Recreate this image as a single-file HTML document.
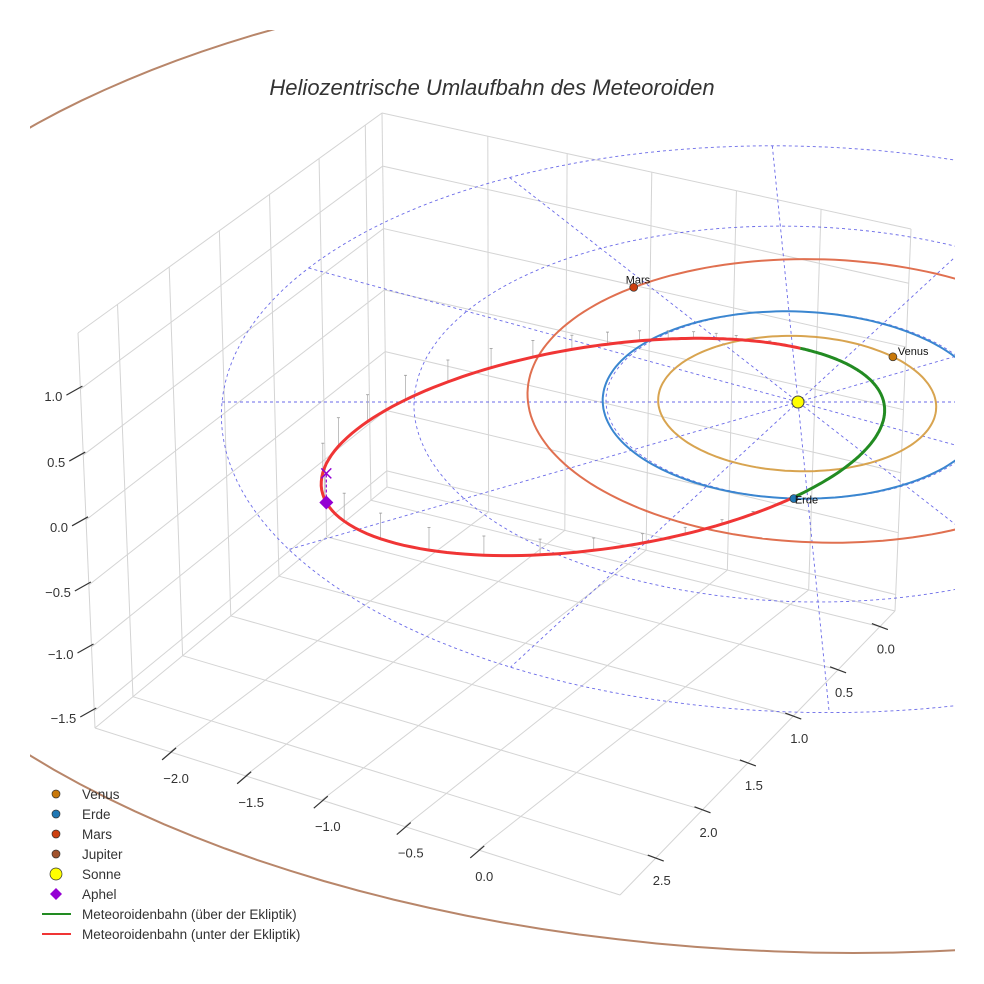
<!DOCTYPE html>
<html><head><meta charset="utf-8">
<style>
html,body{margin:0;padding:0;background:#fff;}
svg{display:block;font-family:"Liberation Sans",sans-serif;}
</style></head>
<body>
<svg id="chart" width="984" height="984" viewBox="0 0 984 984" xmlns="http://www.w3.org/2000/svg">
<defs><clipPath id="plotclip"><rect x="30" y="30" width="925" height="925"/></clipPath></defs>
<rect x="0" y="0" width="984" height="984" fill="#fff"/>
<text x="492" y="95" text-anchor="middle" font-size="22" font-style="italic" fill="#333">Heliozentrische Umlaufbahn des Meteoroiden</text>
<g id="box"></g>
<g id="scene" clip-path="url(#plotclip)"></g>
<g id="ticks"></g>
<g id="legend"></g>
</svg>
<script>
// ---- data ----
const planetNames = ["Venus", "Erde", "Mars", "Jupiter"];
const planetA = [0.723, 1.0, 1.524, 5.203];
const planetE = [0.007, 0.017, 0.093, 0.048];
const planetPeri = [0, 0, 143, 90];
const planetAngle = [317, 94, 237, 20];
const meteorQ = [0.43];
const meteorE = [0.711];
const meteorPeri = [343];
const meteorNode = [274];
const meteorIncl = [5.5];
const gridRadii = [1, 2, 3];
const radialAngles = [0, 30, 60, 90, 120, 150];
const xTicks = ["\u22122.0", "\u22121.5", "\u22121.0", "\u22120.5", "0.0"];
const yTicks = ["0.0", "0.5", "1.0", "1.5", "2.0", "2.5"];
const zTicks = ["1.0", "0.5", "0.0", "\u22120.5", "\u22121.0", "\u22121.5"];

// ---- projection ----
const CX = 798, CY = 402, KX = 192, KY = 93.6, KZ = 125, SH = 9.4, PP = 0.032;
function P(X, Y, Z) { const f = 1 / (1 - PP * Y); return [CX + (KX * X + SH * Y) * f, CY + (KY * Y - KZ * Z) * f]; }
const NS = "http://www.w3.org/2000/svg";
function mk(tag, parent) { const e = document.createElementNS(NS, tag); parent.appendChild(e); return e; }
function pathD(pts) { return pts.map((p, i) => (i ? "L" : "M") + p[0].toFixed(1) + " " + p[1].toFixed(1)).join(""); }
const rad = d => d * Math.PI / 180;
const scene = document.getElementById("scene");
const box = document.getElementById("box");
const ticks = document.getElementById("ticks");
const legend = document.getElementById("legend");

// ---- axis box (decoration) ----
const TL = [78, 333], BL = [95, 728], B = [387, 487], TB = [382, 113], R = [895, 611], TR = [911, 229], F = [620, 895];
const lerp = (a, b, t) => [a[0] + (b[0] - a[0]) * t, a[1] + (b[1] - a[1]) * t];
const yFr = [0.055, 0.207, 0.37, 0.535, 0.70, 0.87];
const zFr = [0.142, 0.309, 0.473, 0.638, 0.795, 0.957];
const xFrFront = [0.143, 0.286, 0.432, 0.59, 0.73];
const xFrBack = [0.2, 0.35, 0.51, 0.67, 0.83];
function gl(a, b, name, col) {
  const l = mk("line", box);
  l.setAttribute("x1", a[0]); l.setAttribute("y1", a[1]); l.setAttribute("x2", b[0]); l.setAttribute("y2", b[1]);
  l.setAttribute("stroke", col || "#d4d4d4"); l.setAttribute("stroke-width", "1");
  
  
}
[[TL, TB], [TB, TR], [TL, BL], [TB, B], [TR, R], [BL, B], [B, R], [BL, F], [F, R]].forEach(e => gl(e[0], e[1], "box-edge"));
yFr.forEach(t => { gl(lerp(B, BL, t), lerp(TB, TL, t), "left-wall-gridline"); gl(lerp(R, F, t), lerp(B, BL, t), "floor-gridline-y"); });
zFr.forEach(t => { gl(lerp(TL, BL, t), lerp(TB, B, t), "left-wall-gridline"); gl(lerp(TB, B, t), lerp(TR, R, t), "back-wall-gridline"); });
xFrBack.forEach((t, i) => { gl(lerp(B, R, t), lerp(TB, TR, t), "back-wall-gridline"); gl(lerp(BL, F, xFrFront[i]), lerp(B, R, t), "floor-gridline-x"); });

// ---- ticks & labels ----
function tk(x1, y1, x2, y2, name) {
  const l = mk("line", ticks);
  l.setAttribute("x1", x1); l.setAttribute("y1", y1); l.setAttribute("x2", x2); l.setAttribute("y2", y2);
  l.setAttribute("stroke", "#333"); l.setAttribute("stroke-width", "1.2");
  
  
}
function lbl(x, y, s, name, anchor) {
  const t = mk("text", ticks);
  t.setAttribute("x", x); t.setAttribute("y", y); t.setAttribute("font-size", "13"); t.setAttribute("fill", "#333");
  t.setAttribute("text-anchor", anchor || "middle"); t.textContent = s;
  
  
}
zTicks.forEach((s, i) => { const p = lerp(TL, BL, zFr[i]); tk(p[0] - 14, p[1] + 6, p[0] + 2, p[1] - 3, "z-tick"); lbl(p[0] - 18, p[1] + 12, s, "z-tick-label", "end"); });
xTicks.forEach((s, i) => { const p = lerp(BL, F, xFrFront[i]); tk(p[0] - 8, p[1] + 8, p[0] + 6, p[1] - 4, "x-tick"); lbl(p[0] + 6, p[1] + 31, s, "x-tick-label", "middle"); });
yTicks.forEach((s, i) => { const p = lerp(R, F, yFr[i]); tk(p[0] - 8, p[1] - 3, p[0] + 8, p[1] + 3, "y-tick"); lbl(p[0] + 6, p[1] + 27, s, "y-tick-label", "middle"); });

// ---- scene ----
function addPath(pts, col, w, name, dash, op) {
  const e = mk("path", scene);
  e.setAttribute("d", pathD(pts)); e.setAttribute("fill", "none"); e.setAttribute("stroke", col); e.setAttribute("stroke-width", w);
  if (dash) e.setAttribute("stroke-dasharray", dash);
  if (op) e.setAttribute("stroke-opacity", op);
  
  
  return e;
}
function orbitPt(a, e, peri, th) { const r = a * (1 - e * e) / (1 + e * Math.cos(rad(th - peri))); return [r * Math.cos(rad(th)), r * Math.sin(rad(th))]; }
gridRadii.forEach(r => { const pts = []; for (let k = 0; k <= 360; k += 2) pts.push(P(r * Math.cos(rad(k)), r * Math.sin(rad(k)), 0)); addPath(pts, "#5a5ae6", 0.9, "ecliptic-grid-circle", "3,3", 0.9); });
const rMax = gridRadii[gridRadii.length - 1];
radialAngles.forEach(a => { addPath([P(-rMax * Math.cos(rad(a)), -rMax * Math.sin(rad(a)), 0), P(rMax * Math.cos(rad(a)), rMax * Math.sin(rad(a)), 0)], "#5a5ae6", 0.9, "ecliptic-radial-line", "3,3", 0.9); });
const orbitCols = ["#d8a450", "#3a86d0", "#e07050", "#b8866a"];
const markCols = ["#c8780a", "#1f77b4", "#cc4010", "#a0522d"];
[3, 2, 1, 0].forEach(i => {
  const pts = []; for (let k = 0; k <= 360; k += 2) { const q = orbitPt(planetA[i], planetE[i], planetPeri[i], k); pts.push(P(q[0], q[1], 0)); }
  addPath(pts, orbitCols[i], 2, "orbit-" + planetNames[i].toLowerCase());
});
const mA = meteorQ[0] / (1 - meteorE[0]);
function mPt(th) { const q = orbitPt(mA, meteorE[0], meteorPeri[0], th); const r = Math.hypot(q[0], q[1]); const z = r * Math.sin(rad(th - meteorNode[0])) * Math.sin(rad(meteorIncl[0])); return [q[0], q[1], z]; }
const node = meteorNode[0];
for (let th = node - 180 + 4; th < node; th += 6) {
  const m = mPt(th); const a = P(m[0], m[1], m[2]), b = P(m[0], m[1], 0);
  addPath([a, b], "#b0b0b0", 0.8, "drop-line");
  addPath([[b[0] - 1.5, b[1]], [b[0] + 1.5, b[1]]], "#999", 0.8, "drop-line-cap");
}
const red = [], green = [];
for (let th = node - 180; th <= node; th += 1) { const m = mPt(th); red.push(P(m[0], m[1], m[2])); }
for (let th = node; th <= node + 180; th += 1) { const m = mPt(th); green.push(P(m[0], m[1], m[2])); }
addPath(red, "#f03535", 3, "meteoroid-orbit-below");
addPath(green, "#228b22", 3, "meteoroid-orbit-above");
const aph = mPt(meteorPeri[0] + 180);
const ap = P(aph[0], aph[1], aph[2]), ap0 = P(aph[0], aph[1], 0);
addPath([ap, ap0], "#9400d3", 1.2, "aphel-projection-line", "3,2");
addPath([[ap0[0] - 5, ap0[1] - 5], [ap0[0] + 5, ap0[1] + 5], [ap0[0], ap0[1]], [ap0[0] - 5, ap0[1] + 5], [ap0[0] + 5, ap0[1] - 5]], "#9400d3", 1.5, "aphel-ecliptic-marker");
const dia = mk("path", scene);
dia.setAttribute("d", `M${ap[0]} ${ap[1] - 7}L${ap[0] + 7} ${ap[1]}L${ap[0]} ${ap[1] + 7}L${ap[0] - 7} ${ap[1]}Z`);
dia.setAttribute("fill", "#9400d3");


const sun = mk("circle", scene);
sun.setAttribute("cx", P(0, 0, 0)[0]); sun.setAttribute("cy", P(0, 0, 0)[1]); sun.setAttribute("r", 6);
sun.setAttribute("fill", "#ffff00"); sun.setAttribute("stroke", "#444"); sun.setAttribute("stroke-width", "1");


planetNames.forEach((n, i) => {
  const q = orbitPt(planetA[i], planetE[i], planetPeri[i], planetAngle[i]); const p = P(q[0], q[1], 0);
  const c = mk("circle", scene); c.setAttribute("cx", p[0]); c.setAttribute("cy", p[1]); c.setAttribute("r", 4);
  c.setAttribute("fill", markCols[i]); c.setAttribute("stroke", "#333"); c.setAttribute("stroke-width", "0.7");
  
  
  const t = mk("text", scene); t.setAttribute("font-size", "11"); t.setAttribute("fill", "#111");
  if (n === "Mars") { t.setAttribute("x", p[0] - 8); t.setAttribute("y", p[1] - 4); }
  else if (n === "Erde") { t.setAttribute("x", p[0] + 1); t.setAttribute("y", p[1] + 5); }
  else { t.setAttribute("x", p[0] + 5); t.setAttribute("y", p[1] - 2); }
  t.textContent = n;
  
  
});

// ---- legend ----
const legItems = [["Venus", "dot", "#c8780a"], ["Erde", "dot", "#1f77b4"], ["Mars", "dot", "#cc4010"], ["Jupiter", "dot", "#a0522d"], ["Sonne", "sun", "#ffff00"], ["Aphel", "dia", "#9400d3"], ["Meteoroidenbahn (über der Ekliptik)", "line", "#228b22"], ["Meteoroidenbahn (unter der Ekliptik)", "line", "#f03535"]];
legItems.forEach((it, i) => {
  const y = 794 + i * 20;
  const g = mk("g", legend);
  
  
  let s;
  if (it[1] === "dot" || it[1] === "sun") { s = mk("circle", g); s.setAttribute("cx", 56); s.setAttribute("cy", y); s.setAttribute("r", it[1] === "sun" ? 6 : 4); s.setAttribute("fill", it[2]); s.setAttribute("stroke", "#333"); s.setAttribute("stroke-width", "0.7"); }
  else if (it[1] === "dia") { s = mk("path", g); s.setAttribute("d", `M56 ${y - 6}L62 ${y}L56 ${y + 6}L50 ${y}Z`); s.setAttribute("fill", it[2]); }
  else { s = mk("line", g); s.setAttribute("x1", 42); s.setAttribute("x2", 71); s.setAttribute("y1", y); s.setAttribute("y2", y); s.setAttribute("stroke", it[2]); s.setAttribute("stroke-width", 2); }
  
  
  const t = mk("text", g); t.setAttribute("x", 82); t.setAttribute("y", y + 5); t.setAttribute("font-size", "13.5"); t.setAttribute("fill", "#333"); t.textContent = it[0];
  
  
});
</script>
</body></html>
